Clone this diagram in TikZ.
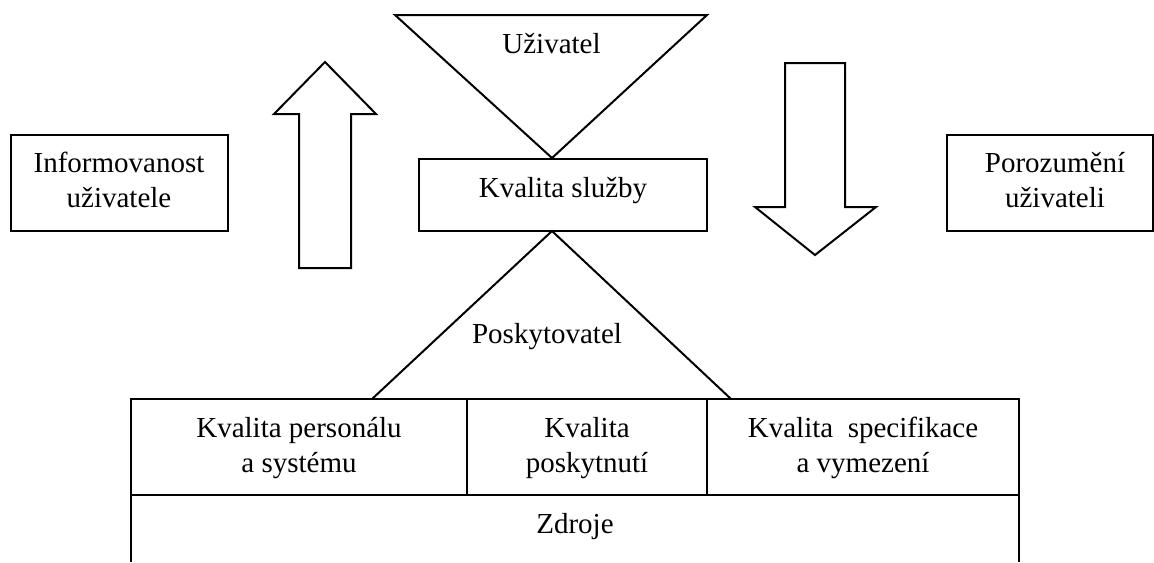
\documentclass[tikz,border=0pt]{standalone}
\usepackage{fontspec}
\setmainfont{Liberation Serif}

\begin{document}
\begin{tikzpicture}[x=0.5pt, y=-0.5pt, line width=1pt,
		txt/.style={align=center, inner sep=0pt, anchor=base, font=\fontsize{14.5}{17.2}\selectfont}]
		%%%%% START %%%%%
		\useasboundingbox (0,0) rectangle (1154,562);
		
		% Uzivatel
		\draw (395,15) -- (707,15) -- (552,158) -- cycle;
		\node[txt] (uziv) at (551.5,53) {Uživatel};
		
		\draw (419,159) rectangle (707,231);
		\node[txt] (sluzba) at (563,197) {Kvalita služby};
		
		% Poskytovatel
		\coordinate (apex) at (552,231);
		\coordinate (baseL) at (372,399);
		\coordinate (baseR) at (731,399);
		\draw (baseL) -- (apex) -- (baseR);
		\node[txt] (poskyt) at (547,343) {Poskytovatel};
		
		% sipky
		\draw (299,268) -- (299,114) -- (274,114) -- (325,62) -- (376,114) -- (351,114) -- (351,268) -- cycle;
		\draw (785,63) -- (845,63) -- (845,207) -- (876,207) -- (815,255) -- (755,207) -- (785,207) -- cycle;
		
		\draw (11,135) rectangle (228,231);
		\node[txt] (info) at (119,207) {Informovanost\\uživatele};
		
		\draw (947,135) rectangle (1152.5,231);
		\node[txt] (porozum) at (1055,207) {Porozumění\\uživateli};
		
		% zdroje
		\draw (131,562) -- (131,399) -- (1019,399) -- (1019,562);
		\draw (131,495) -- (1019,495);
		\draw (467,399) -- (467,495);
		\draw (707,399) -- (707,495);
		
		\node[txt] (personal) at (299,472) {Kvalita personálu\\a systému};
		\node[txt] (poskytnuti) at (587,472) {Kvalita\\poskytnutí};
		\node[txt] (specif) at (863,472) {Kvalita\ \ specifikace\\a vymezení};
		\node[txt] (zdroje) at (575,533) {Zdroje};
		
		%%%%% END %%%%%
	\end{tikzpicture}
\end{document}
